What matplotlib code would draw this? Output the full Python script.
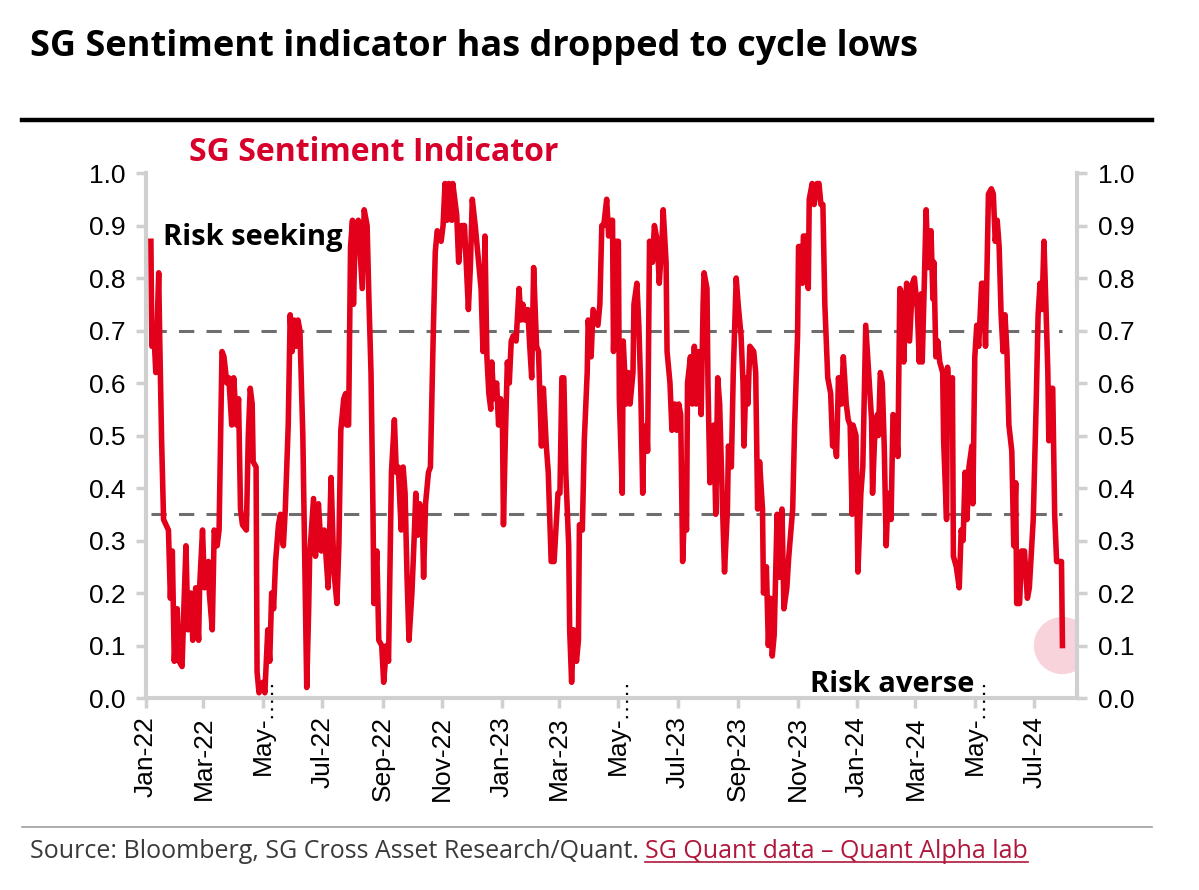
import matplotlib
matplotlib.use("Agg")
import matplotlib.pyplot as plt
import pandas as pd
from matplotlib.lines import Line2D
import matplotlib.transforms as mtransforms

# days since 2022-01-01 and indicator value
days = [5, 6, 8, 10, 13, 14, 16, 18, 23, 25, 27, 29, 32, 34, 37, 39, 41, 43, 46, 48,
        51, 54, 55, 58, 60, 64, 65, 68, 70, 73, 75, 78, 80, 83, 85, 88, 90, 93, 95, 97,
        99, 103, 105, 107, 109, 110, 113, 114, 116, 120, 122, 125, 127, 129, 131, 133, 136, 138, 141, 143,
        146, 148, 150, 152, 154, 156, 158, 161, 165, 167, 168, 172, 174, 177, 180, 183, 187, 190, 193, 196,
        198, 200, 203, 205, 206, 208, 210, 212, 213, 215, 218, 222, 224, 227, 229, 231, 233, 234, 237, 239,
        242, 244, 247, 249, 252, 255, 257, 259, 262, 264, 266, 268, 270, 273, 275, 277, 279, 281, 284, 285,
        287, 290, 292, 295, 297, 299, 303, 305, 307, 309, 311, 314, 315, 317, 319, 321, 324, 327, 331, 333,
        335, 338, 342, 344, 346, 348, 350, 352, 354, 355, 357, 360, 362, 364, 366, 367, 369, 371, 373, 375,
        377, 380, 383, 385, 387, 389, 392, 394, 396, 398, 401, 403, 406, 408, 411, 413, 416, 419, 423, 425,
        427, 429, 431, 434, 435, 437, 439, 442, 444, 445, 448, 450, 453, 454, 457, 459, 464, 466, 468, 470,
        473, 475, 478, 479, 480, 483, 485, 486, 489, 490, 493, 495, 497, 500, 501, 504, 506, 508, 510, 511,
        514, 515, 517, 520, 522, 525, 527, 530, 531, 534, 535, 538, 540, 543, 545, 547, 549, 551, 553, 555,
        556, 559, 561, 563, 565, 567, 570, 572, 573, 576, 577, 579, 583, 585, 587, 589, 592, 594, 597, 598,
        601, 603, 606, 608, 611, 613, 614, 616, 618, 620, 624, 626, 628, 630, 633, 634, 637, 639, 641, 643,
        645, 648, 650, 653, 655, 658, 660, 664, 666, 669, 670, 672, 674, 675, 678, 680, 681, 684, 686, 689,
        691, 693, 695, 697, 700, 703, 705, 707, 709, 711, 714, 716, 719, 721, 723, 725, 726, 729, 731, 734,
        736, 739, 742, 745, 746, 748, 751, 752, 754, 756, 758, 760, 762, 765, 767, 770, 772, 774, 776, 778,
        781, 784, 787, 789, 792, 794, 796, 797, 799, 801, 803, 806, 808, 809, 811, 813, 815, 818, 819, 822,
        823, 825, 828, 829, 832, 835, 837, 839, 841, 843, 845, 848, 849, 851, 853, 855, 858, 860, 862, 865,
        868, 870, 872, 874, 876, 878, 880, 882, 884, 886, 889, 891, 893, 894, 897, 899, 902, 905, 907, 911,
        914, 916, 918, 920, 922, 924, 926, 927, 930, 931, 933, 935, 938, 940, 941]
sentiment = [0.87, 0.67, 0.70, 0.62, 0.81, 0.69, 0.49, 0.34, 0.32, 0.19, 0.28, 0.07, 0.17, 0.07, 0.06, 0.18, 0.29, 0.13, 0.20, 0.11,
             0.21, 0.11, 0.21, 0.32, 0.21, 0.26, 0.20, 0.13, 0.32, 0.29, 0.32, 0.66, 0.65, 0.60, 0.61, 0.52, 0.61, 0.52, 0.57, 0.36,
             0.33, 0.32, 0.50, 0.59, 0.56, 0.45, 0.44, 0.05, 0.01, 0.03, 0.01, 0.13, 0.07, 0.20, 0.17, 0.26, 0.33, 0.35, 0.29, 0.36,
             0.52, 0.73, 0.66, 0.72, 0.67, 0.72, 0.70, 0.50, 0.02, 0.17, 0.27, 0.38, 0.27, 0.37, 0.28, 0.32, 0.21, 0.42, 0.24, 0.18,
             0.29, 0.51, 0.57, 0.58, 0.52, 0.52, 0.86, 0.91, 0.75, 0.90, 0.91, 0.78, 0.93, 0.90, 0.75, 0.62, 0.36, 0.18, 0.28, 0.11,
             0.10, 0.03, 0.10, 0.07, 0.43, 0.53, 0.43, 0.44, 0.32, 0.44, 0.39, 0.23, 0.11, 0.20, 0.29, 0.39, 0.31, 0.37, 0.32, 0.23,
             0.37, 0.43, 0.44, 0.70, 0.85, 0.89, 0.87, 0.90, 0.98, 0.91, 0.98, 0.91, 0.98, 0.95, 0.92, 0.83, 0.90, 0.90, 0.74, 0.82,
             0.95, 0.90, 0.82, 0.78, 0.66, 0.88, 0.65, 0.58, 0.55, 0.64, 0.57, 0.60, 0.52, 0.57, 0.52, 0.33, 0.50, 0.64, 0.60, 0.68,
             0.69, 0.68, 0.78, 0.72, 0.75, 0.72, 0.74, 0.67, 0.61, 0.82, 0.67, 0.66, 0.48, 0.59, 0.48, 0.43, 0.26, 0.26, 0.39, 0.39,
             0.61, 0.61, 0.43, 0.29, 0.13, 0.03, 0.13, 0.07, 0.11, 0.33, 0.32, 0.49, 0.62, 0.72, 0.65, 0.74, 0.71, 0.75, 0.90, 0.90,
             0.95, 0.88, 0.91, 0.91, 0.66, 0.87, 0.87, 0.57, 0.39, 0.68, 0.56, 0.62, 0.56, 0.62, 0.75, 0.79, 0.71, 0.59, 0.39, 0.49,
             0.52, 0.47, 0.87, 0.83, 0.90, 0.87, 0.79, 0.88, 0.93, 0.83, 0.66, 0.60, 0.51, 0.56, 0.51, 0.56, 0.54, 0.26, 0.36, 0.32,
             0.60, 0.65, 0.56, 0.67, 0.56, 0.66, 0.54, 0.75, 0.81, 0.78, 0.60, 0.41, 0.52, 0.35, 0.61, 0.56, 0.36, 0.24, 0.36, 0.48,
             0.44, 0.62, 0.80, 0.75, 0.69, 0.60, 0.48, 0.61, 0.56, 0.67, 0.66, 0.62, 0.36, 0.45, 0.36, 0.20, 0.25, 0.10, 0.19, 0.08,
             0.12, 0.35, 0.23, 0.36, 0.17, 0.21, 0.27, 0.36, 0.52, 0.69, 0.86, 0.86, 0.79, 0.88, 0.88, 0.78, 0.95, 0.98, 0.94, 0.98,
             0.98, 0.94, 0.94, 0.75, 0.61, 0.58, 0.48, 0.49, 0.46, 0.61, 0.56, 0.65, 0.56, 0.53, 0.52, 0.35, 0.52, 0.50, 0.24, 0.39,
             0.44, 0.71, 0.62, 0.53, 0.39, 0.49, 0.54, 0.50, 0.62, 0.60, 0.48, 0.29, 0.39, 0.34, 0.54, 0.53, 0.46, 0.78, 0.77, 0.64,
             0.79, 0.68, 0.79, 0.80, 0.74, 0.64, 0.77, 0.64, 0.78, 0.93, 0.82, 0.89, 0.76, 0.83, 0.65, 0.68, 0.64, 0.62, 0.49, 0.34,
             0.63, 0.53, 0.61, 0.27, 0.25, 0.21, 0.32, 0.30, 0.43, 0.34, 0.44, 0.48, 0.37, 0.65, 0.71, 0.67, 0.79, 0.79, 0.67, 0.96,
             0.97, 0.96, 0.87, 0.91, 0.86, 0.73, 0.66, 0.73, 0.66, 0.52, 0.47, 0.29, 0.41, 0.18, 0.18, 0.28, 0.28, 0.19, 0.21, 0.34,
             0.56, 0.73, 0.79, 0.74, 0.87, 0.75, 0.62, 0.49, 0.59, 0.59, 0.35, 0.26, 0.26, 0.26, 0.10]

tick_dates = ['2022-01-01', '2022-03-01', '2022-05-01', '2022-07-01', '2022-09-01', '2022-11-01',
              '2023-01-01', '2023-03-01', '2023-05-01', '2023-07-01', '2023-09-01', '2023-11-01',
              '2024-01-01', '2024-03-01', '2024-05-01', '2024-07-01']
tick_labels = ['Jan-22', 'Mar-22', 'May-', 'Jul-22', 'Sep-22', 'Nov-22',
               'Jan-23', 'Mar-23', 'May-', 'Jul-23', 'Sep-23', 'Nov-23',
               'Jan-24', 'Mar-24', 'May-', 'Jul-24']
y_ticks = [0.0, 0.1, 0.2, 0.3, 0.4, 0.5, 0.6, 0.7, 0.8, 0.9, 1.0]
upper_band = 0.7
lower_band = 0.35

start = pd.Timestamp('2022-01-01')
dates = start + pd.to_timedelta(days, unit='D')
ticks = pd.to_datetime(tick_dates)

red = '#e2001a'
grey_axis = '#d0d0d0'

fig = plt.figure(figsize=(11.99, 8.9), dpi=100)
ax = fig.add_axes([0.1218, 0.2157, 0.7765, 0.5899])

ax.plot(dates, sentiment, color=red, lw=4.0, solid_joinstyle='round', zorder=3, clip_on=False)
ax.hlines([upper_band, lower_band], dates[0], dates[-1], colors='#6e6e6e',
          linestyles=(0, (5, 4)), lw=2.2, zorder=2)
ax.scatter([dates[-1]], [sentiment[-1]], s=1700, color='#f7c1cd', alpha=0.7,
           edgecolors='none', zorder=1)

ax.set_xlim(start, start + pd.Timedelta(days=956))
ax.set_ylim(0, 1.0)
ax.set_xticks(ticks)
ax.set_xticklabels(tick_labels, rotation=90, fontsize=19, family='Liberation Sans')
ax.set_yticks(y_ticks)
ax.set_yticklabels(['%.1f' % t for t in y_ticks], fontsize=19, family='Liberation Sans')
ax.tick_params(axis='both', colors=grey_axis, labelcolor='black', width=2.5, length=7)
ax.tick_params(axis='y', right=True, labelright=True, pad=8)
ax.tick_params(axis='x', pad=6)
for side in ['left', 'right', 'bottom']:
    ax.spines[side].set_color(grey_axis)
    ax.spines[side].set_linewidth(3)
ax.spines['top'].set_visible(False)

# dotted remnants under the truncated May labels
trans = mtransforms.blended_transform_factory(ax.transData, ax.transAxes)
for t in ticks[2::6]:
    ax.plot([t + pd.Timedelta(days=9)] * 2, [0.025, -0.045], transform=trans, color='black',
            lw=1.6, ls=(0, (1, 2.5)), clip_on=False)

ax.text(0.018, 0.878, 'Risk seeking', transform=ax.transAxes, fontsize=21,
        fontweight='bold', family='Open Sans', va='center', ha='left')
ax.text(0.890, 0.025, 'Risk averse', transform=ax.transAxes, fontsize=21,
        fontweight='bold', family='Open Sans', va='center', ha='right')

fig.text(0.025, 0.947, 'SG Sentiment indicator has dropped to cycle lows', fontsize=26,
         fontweight='bold', family='Open Sans', va='center', ha='left')
fig.add_artist(Line2D([0.018, 0.961], [0.865, 0.865], color='black', lw=3.2))
fig.text(0.158, 0.829, 'SG Sentiment Indicator', fontsize=23, fontweight='bold',
         family='Open Sans', color='#d7002a', va='center', ha='left')

fig.add_artist(Line2D([0.018, 0.961], [0.071, 0.071], color='#a0a0a0', lw=1.2))
src = fig.text(0.025, 0.043, 'Source: Bloomberg, SG Cross Asset Research/Quant. ', fontsize=18,
               family='Open Sans', color='#3a3a3a', va='center', ha='left')
fig.canvas.draw()
bb = src.get_window_extent().transformed(fig.transFigure.inverted())
link = fig.text(bb.x1, 0.043, 'SG Quant data \u2013 Quant Alpha lab', fontsize=18,
                family='Open Sans', color='#b0173c', va='center', ha='left')
fig.canvas.draw()
lb = link.get_window_extent().transformed(fig.transFigure.inverted())
fig.add_artist(Line2D([lb.x0, lb.x1], [lb.y0 + 0.002, lb.y0 + 0.002], color='#b0173c', lw=1.2))

plt.savefig('out.png', dpi=100)
